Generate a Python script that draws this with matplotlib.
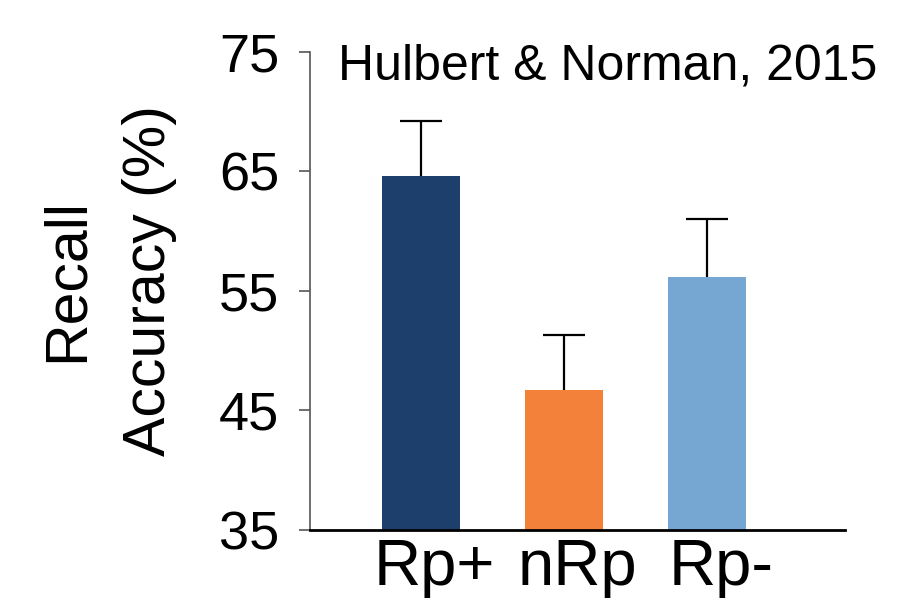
import matplotlib
matplotlib.use('Agg')
import matplotlib.pyplot as plt
import matplotlib.transforms as mtransforms
import numpy as np

# values
conditions = ['Rp+', 'nRp', 'Rp-']
accuracy = [64.6, 46.7, 56.2]   # bar height (%)
err = [4.6, 4.6, 4.8]           # error bar (%), only the upper half shows
bar_colors = ['#1d3f6b', '#f4813a', '#76a7d3']
y_ticks = [35, 45, 55, 65, 75]

plt.rcParams['font.family'] = ['Liberation Sans', 'DejaVu Sans']

fig = plt.figure(figsize=(9.22, 6.04), dpi=100)
ax = fig.add_axes([0.336, 0.1225, 0.9165 - 0.336, 0.914 - 0.1225])

x = np.arange(len(conditions))
# error bars sit behind the bars so the lower half is hidden
ax.errorbar(x, accuracy, yerr=err, fmt='none',
            ecolor='black', elinewidth=1.6, capsize=15, capthick=1.6, zorder=1)
ax.bar(x, accuracy, width=0.545, color=bar_colors, zorder=2)

ax.set_ylim(35, 75)
ax.set_xlim(-0.776, 2.965)
ax.set_yticks(y_ticks)
ax.set_xticks(x)
ax.set_xticklabels(conditions, fontsize=47)
ax.tick_params(axis='y', labelsize=39, length=8, width=1.2, color='#555555',
               direction='out', pad=14)
ax.tick_params(axis='x', length=0, pad=6)

# labels in the original sit a little right of the bar centres
shift = mtransforms.ScaledTranslation(10 / 72, 0, fig.dpi_scale_trans)
for lab in ax.get_xticklabels():
    lab.set_transform(lab.get_transform() + shift)

ax.spines['top'].set_visible(False)
ax.spines['right'].set_visible(False)
ax.spines['left'].set_color('#555555')
ax.spines['left'].set_linewidth(1.2)
ax.spines['bottom'].set_color('black')
ax.spines['bottom'].set_linewidth(2)
ax.spines['left'].set_zorder(0)

ax.set_ylabel('Recall\nAccuracy (%)', fontsize=42.5, linespacing=1.65, labelpad=30)
ax.yaxis.label.set_y(0.522)

fig.text(0.952, 0.8687, 'Hulbert & Norman, 2015', fontsize=36,
         ha='right', va='baseline')

fig.savefig('out.png', dpi=100)
